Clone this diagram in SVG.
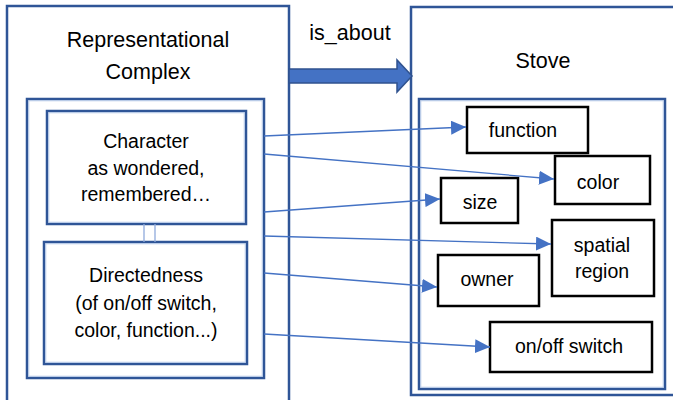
<svg xmlns="http://www.w3.org/2000/svg" width="673" height="400" viewBox="0 0 673 400">
<style>
.frame{fill:none;stroke:#2F5597;stroke-width:2.5}
.hl{fill:none;stroke:#B4C7E7;stroke-width:1}
.box{fill:#fff;stroke:#000;stroke-width:2.5}
.t{font-family:"Liberation Sans",Arial,sans-serif;font-size:19.5px;fill:#000;text-anchor:middle}
.h{font-size:21.5px}
.c{fill:none;stroke:#4472C4;stroke-width:1.3}
</style>
<defs>
<marker id="ah" markerUnits="userSpaceOnUse" markerWidth="16" markerHeight="14" refX="15" refY="7" orient="auto">
<path d="M0,0 L15,7 L0,14 Z" fill="#4472C4"/>
</marker>
</defs>
<rect width="673" height="400" fill="#fff"/>
<g id="representational-complex">
<rect class="frame" x="7" y="6" width="282" height="400"/>
<text class="t h" x="148" y="47">Representational</text>
<text class="t h" x="148" y="79">Complex</text>
<rect class="frame" x="27" y="99" width="237" height="279"/>
<rect class="hl" x="28.75" y="100.75" width="233.5" height="275.5"/>
</g>
<g id="character">
<rect class="frame" x="47" y="111" width="199" height="113"/>
<rect class="hl" x="48.75" y="112.75" width="195.5" height="109.5"/>
<text class="t" x="146" y="148">Character</text>
<text class="t" x="146" y="175">as wondered,</text>
<text class="t" x="146" y="201">remembered…</text>
</g>
<g id="directedness">
<rect class="frame" x="44" y="242" width="203" height="122"/>
<rect class="hl" x="45.75" y="243.75" width="199.5" height="118.5"/>
<text class="t" x="146" y="282">Directedness</text>
<text class="t" x="146" y="310">(of on/off switch,</text>
<text class="t" x="146" y="337">color, function...)</text>
</g>
<g id="stove">
<rect class="frame" x="411" y="7" width="290" height="388"/>
<text class="t h" x="543" y="68">Stove</text>
<rect class="frame" x="419" y="99" width="246" height="290"/>
<rect class="hl" x="420.75" y="100.75" width="242.5" height="286.5"/>
</g>
<g id="is-about">
<text class="t h" x="350" y="40">is_about</text>
</g>
<g id="function"><rect class="box" x="467" y="107" width="121" height="46"/><text class="t" x="523" y="137">function</text></g>
<g id="color"><rect class="box" x="555" y="156" width="95" height="48"/><text class="t" x="598" y="189">color</text></g>
<g id="size"><rect class="box" x="441" y="178" width="77" height="45"/><text class="t" x="480" y="209">size</text></g>
<g id="spatial-region"><rect class="box" x="552" y="220" width="102" height="76"/><text class="t" x="602" y="252">spatial</text><text class="t" x="602" y="278">region</text></g>
<g id="owner"><rect class="box" x="438" y="255" width="101" height="51"/><text class="t" x="487" y="286">owner</text></g>
<g id="on-off-switch"><rect class="box" x="490" y="322" width="162" height="50"/><text class="t" x="569" y="353">on/off switch</text></g>
<g id="connectors">
<path d="M289,69 H397 V60 L412,76 L397,92 V83 H289 Z" fill="#4472C4" stroke="#2F528F" stroke-width="1.5"/>
<line x1="144" y1="224" x2="144" y2="242" stroke="#8FAADC" stroke-width="1.3"/>
<line x1="155" y1="224" x2="155" y2="242" stroke="#8FAADC" stroke-width="1.3"/>
<line class="c" x1="264" y1="136" x2="466" y2="127" marker-end="url(#ah)"/>
<line class="c" x1="264" y1="154" x2="554" y2="179" marker-end="url(#ah)"/>
<line class="c" x1="264" y1="212" x2="440" y2="199" marker-end="url(#ah)"/>
<line class="c" x1="264" y1="236" x2="551" y2="244" marker-end="url(#ah)"/>
<line class="c" x1="264" y1="273" x2="437" y2="287" marker-end="url(#ah)"/>
<line class="c" x1="264" y1="334" x2="490" y2="347" marker-end="url(#ah)"/>
</g>
</svg>
